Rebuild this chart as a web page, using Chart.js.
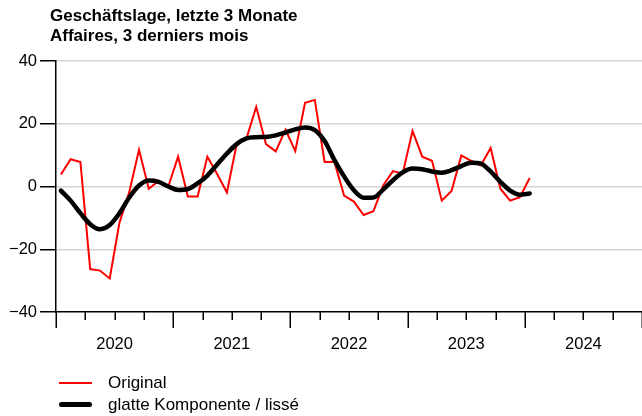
<!DOCTYPE html>
<html lang="de">
<head>
<meta charset="UTF-8">
<title>Geschäftslage, letzte 3 Monate</title>
<script src="https://cdn.jsdelivr.net/npm/chart.js"></script>
<style>
  body { margin: 0; background: #fff; font-family: 'Liberation Sans', Arial, sans-serif; }
  #wrap { position: relative; width: 642px; height: 416px; overflow: hidden; }
  #titel { position: absolute; left: 50px; top: 6px; font-weight: bold; font-size: 17px; line-height: 20px; color: #000; }
  .leg { position: absolute; left: 59px; font-size: 17px; color: #000; white-space: nowrap; }
  .leg span.l { position: absolute; left: 0; width: 33px; }
  .leg span.t { position: absolute; left: 49px; top: -10px; }
</style>
</head>
<body>
<div id="wrap">
  <canvas id="chart" width="642" height="416"></canvas>
  <div id="titel">Geschäftslage, letzte 3 Monate<br>Affaires, 3 derniers mois</div>
  <div class="leg" style="top:383px"><span class="l" style="top:-1px;height:2px;background:#ff0000"></span><span class="t">Original</span></div>
  <div class="leg" style="top:405px"><span class="l" style="top:-3px;height:5px;background:#000;border-radius:3px"></span><span class="t">glatte Komponente / lissé</span></div>
</div>
<script>
// Monatswerte Jan 2020 - Jan 2024
const original = [
  3.8, 8.7, 7.8, -26.3, -26.8, -29.3, -11.5, -1.8, 11.7, -0.7, 1.8, 0,
  9.5, -3.2, -3.2, 9.5, 4, -1.9, 13.5, 15.3, 25.4, 13.5, 11.2, 18.1,
  11.3, 26.7, 27.6, 7.8, 7.9, -2.9, -4.8, -9.1, -7.9, 0.3, 4.9, 4.1,
  17.7, 9.5, 8.2, -4.5, -1.4, 9.9, 8.2, 6.7, 12.3, -0.7, -4.5, -3.4,
  2.7
];
const glatt = [
  -1.3, -4.5, -8.5, -12, -13.6, -12.3, -8.5, -3.5, 0.3, 1.9, 1.5, 0,
  -1.1, -0.8, 1, 3.5, 7, 10.5, 13.5, 15.3, 15.7, 15.8, 16.3, 17.2,
  18.2, 18.8, 18, 14.5, 8.5, 3.2, -1.2, -3.6, -3.5, -1, 2, 4.5,
  5.7, 5.5, 4.8, 4.4, 5.2, 6.5, 7.6, 7.3, 4.8, 1.5, -1.3, -2.6,
  -2.2
];
const jahre = ['2020', '2021', '2022', '2023', '2024'];
const yTicks = [-40, -20, 0, 20, 40];

const toPts = arr => arr.map((v, i) => ({ x: i + 0.5, y: v }));

Chart.defaults.font.family = "'Liberation Sans', Arial, sans-serif";
Chart.defaults.color = '#000';

// Achsenstriche unten: Jahre lang, Quartale kurz
const xTickMarks = {
  id: 'xTickMarks',
  afterDraw(chart) {
    const sx = chart.scales.x;
    const c = chart.ctx;
    c.save();
    c.strokeStyle = '#000';
    c.lineWidth = 1.5;
    sx.ticks.forEach(t => {
      const px = Math.round(sx.getPixelForValue(t.value)) + 0.25;
      const len = t.value % 12 === 0 ? 16 : 8;
      c.beginPath();
      c.moveTo(px, sx.top);
      c.lineTo(px, sx.top + len);
      c.stroke();
    });
    c.restore();
  }
};

new Chart(document.getElementById('chart').getContext('2d'), {
  type: 'line',
  data: {
    datasets: [
      {
        label: 'glatte Komponente / lissé',
        data: toPts(glatt),
        borderColor: '#000',
        borderWidth: 4.5,
        borderCapStyle: 'round',
        borderJoinStyle: 'round',
        cubicInterpolationMode: 'monotone',
        pointRadius: 0,
        order: 1
      },
      {
        label: 'Original',
        data: toPts(original),
        borderColor: '#ff0000',
        borderWidth: 2,
        tension: 0,
        pointRadius: 0,
        order: 2
      }
    ]
  },
  options: {
    responsive: false,
    animation: false,
    layout: { padding: { top: 61, left: 0, right: 0, bottom: 0 } },
    plugins: { legend: { display: false }, tooltip: { enabled: false } },
    scales: {
      x: {
        type: 'linear',
        min: 0,
        max: 60,
        afterFit: s => { s.height = 104; },
        // Striche macht das Plugin, hier nur Abstand fuer die Jahreszahlen
        grid: { drawOnChartArea: false, drawTicks: true, tickLength: 23, tickColor: 'rgba(0,0,0,0)' },
        border: { color: '#000', width: 1.5 },
        ticks: {
          stepSize: 3,
          autoSkip: false,
          maxRotation: 0,
          padding: 0,
          font: { size: 16.5 },
          callback: v => (v % 12 === 6 ? jahre[(v - 6) / 12] : '')
        }
      },
      y: {
        min: -40,
        max: 40,
        afterFit: s => { s.width = 56; },
        afterBuildTicks: s => { s.ticks = yTicks.map(v => ({ value: v })); },
        grid: {
          color: c => (c.tick && c.tick.value === -40 ? 'rgba(0,0,0,0)' : 'rgb(211,211,211)'),
          lineWidth: 1.5,
          tickColor: '#000',
          tickLength: 16,
          tickWidth: 1.5
        },
        border: { color: '#000', width: 1.5 },
        ticks: {
          padding: 3,
          font: { size: 16.5 },
          callback: v => (v < 0 ? '\u2212' + Math.abs(v) : String(v))
        }
      }
    }
  },
  plugins: [xTickMarks]
});
</script>
</body>
</html>
